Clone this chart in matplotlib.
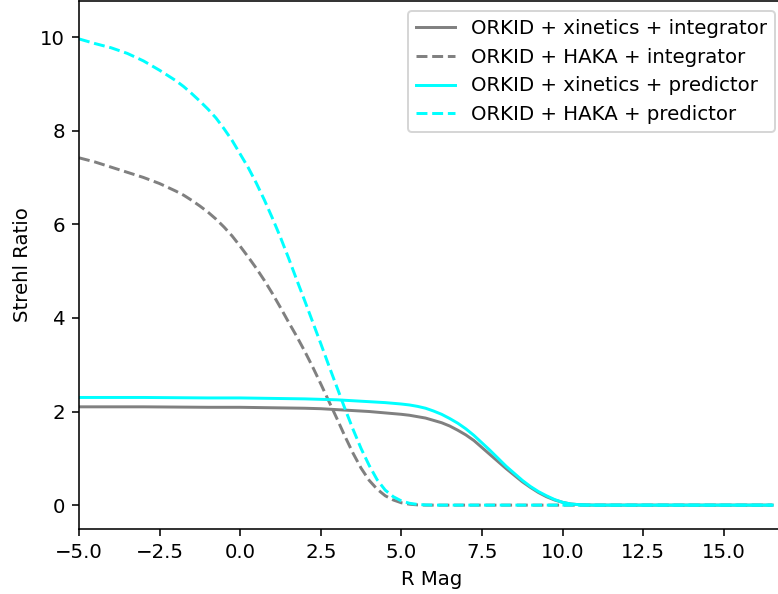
import matplotlib
matplotlib.use("Agg")
import matplotlib.pyplot as plt
import numpy as np

# xinetics DM, integrator and predictor controllers (solid curves)
mag_xinetics = [-5, -3, -1, 0, 1, 2, 2.5, 3, 3.5, 4, 4.5, 5, 5.25, 5.5, 5.75,
                6, 6.25, 6.5, 6.75, 7, 7.25, 7.5, 7.75, 8, 8.25, 8.5, 8.75,
                9, 9.25, 9.5, 9.75, 10, 10.25, 10.5, 10.75, 11, 16.5]
sr_xinetics_integrator = [2.10, 2.10, 2.09, 2.09, 2.08, 2.07, 2.06, 2.04, 2.02,
                          2.00, 1.97, 1.94, 1.92, 1.89, 1.86, 1.81, 1.76, 1.69,
                          1.60, 1.50, 1.38, 1.23, 1.08, 0.93, 0.78, 0.64, 0.50,
                          0.38, 0.27, 0.18, 0.11, 0.06, 0.025, 0.01, 0.003, 0.0,
                          0.0]
sr_xinetics_predictor = [2.30, 2.30, 2.29, 2.29, 2.28, 2.27, 2.26, 2.25, 2.23,
                         2.21, 2.19, 2.16, 2.14, 2.11, 2.07, 2.01, 1.94, 1.85,
                         1.75, 1.63, 1.49, 1.33, 1.17, 1.00, 0.83, 0.68, 0.53,
                         0.40, 0.29, 0.20, 0.12, 0.06, 0.025, 0.01, 0.003, 0.0,
                         0.0]

# HAKA DM, integrator and predictor controllers (dashed curves)
mag_haka = [-5, -4.5, -4, -3.5, -3, -2.5, -2, -1.75, -1.5, -1.25, -1, -0.75,
            -0.5, -0.25, 0, 0.25, 0.5, 0.75, 1, 1.25, 1.5, 1.75, 2, 2.25, 2.5,
            2.75, 3, 3.25, 3.5, 3.75, 4, 4.25, 4.5, 4.75, 5, 5.25, 5.5, 5.75,
            6, 16.5]
sr_haka_integrator = [7.42, 7.33, 7.22, 7.11, 7.00, 6.87, 6.71, 6.62, 6.51,
                      6.39, 6.26, 6.11, 5.94, 5.75, 5.53, 5.30, 5.06, 4.80,
                      4.52, 4.22, 3.91, 3.61, 3.29, 2.95, 2.59, 2.22, 1.85,
                      1.47, 1.11, 0.79, 0.53, 0.34, 0.20, 0.11, 0.05, 0.02,
                      0.005, 0.0, 0.0, 0.0]
sr_haka_predictor = [9.96, 9.86, 9.77, 9.65, 9.49, 9.29, 9.07, 8.94, 8.79,
                     8.63, 8.46, 8.27, 8.04, 7.79, 7.50, 7.21, 6.88, 6.52,
                     6.13, 5.72, 5.28, 4.82, 4.37, 3.91, 3.45, 2.98, 2.52,
                     2.06, 1.62, 1.21, 0.85, 0.54, 0.32, 0.18, 0.09, 0.04,
                     0.015, 0.005, 0.0, 0.0]

W, H, DPI = 779, 594, 142
fig = plt.figure(figsize=(W / DPI, H / DPI), dpi=DPI)
ax = fig.add_axes([79 / W, 65 / H, (785 - 79) / W, 528 / H])

ax.plot(mag_xinetics, sr_xinetics_integrator, color="gray", linestyle="-",
        label="ORKID + xinetics + integrator")
ax.plot(mag_haka, sr_haka_integrator, color="gray", linestyle="--",
        label="ORKID + HAKA + integrator")
ax.plot(mag_xinetics, sr_xinetics_predictor, color="cyan", linestyle="-",
        label="ORKID + xinetics + predictor")
ax.plot(mag_haka, sr_haka_predictor, color="cyan", linestyle="--",
        label="ORKID + HAKA + predictor")

ax.set_xlim(-5, 16.9)
ax.set_ylim(-0.51, 10.77)
ax.set_xticks(np.arange(-5, 16, 2.5))
ax.set_xlabel("R Mag")
ax.set_ylabel("Strehl Ratio")
ax.legend(loc="upper right")

fig.savefig("out.png", dpi=DPI)
